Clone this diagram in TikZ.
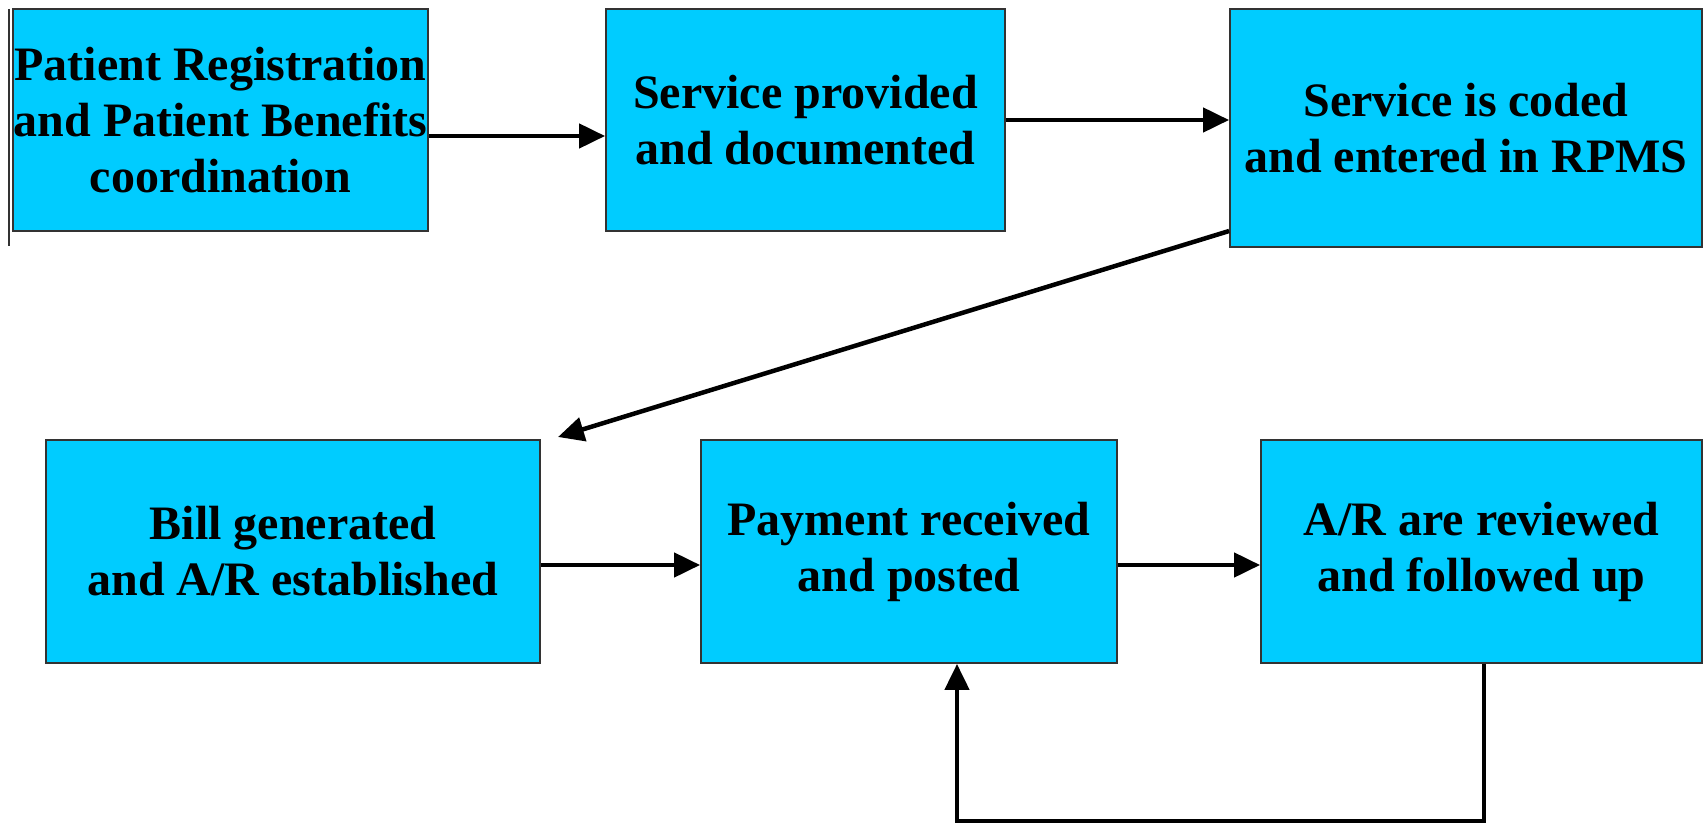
\documentclass[tikz,border=0pt]{standalone}
\usepackage{fontspec}
\setmainfont{Liberation Serif}
\usetikzlibrary{arrows.meta}
\definecolor{boxfill}{HTML}{00CCFF}
\definecolor{boxline}{HTML}{333333}
\begin{document}
\begin{tikzpicture}[x=1pt,y=-1pt,
  box/.style={draw=boxline,line width=1.8pt,fill=boxfill,inner sep=0pt,align=center,
    font=\fontsize{48}{56}\selectfont\bfseries},
  arr/.style={draw=black,line width=4.5pt,-{Triangle[length=26pt,width=24pt]}}]
\useasboundingbox (0,0) rectangle (1705,824);
\node[box,minimum width=415pt,minimum height=222pt] (b1) at (220.5,120) {Patient Registration\\and Patient Benefits\\coordination};
\node[box,minimum width=399pt,minimum height=222pt] (b2) at (805.5,120) {Service provided\\and documented};
\node[box,minimum width=472pt,minimum height=238pt] (b3) at (1466,128) {Service is coded\\and entered in RPMS};
\node[box,minimum width=494pt,minimum height=223pt] (b4) at (293,551.5) {Bill generated\\and A/R established};
\node[box,minimum width=416pt,minimum height=223pt] (b5) at (909,551.5) {Payment received\\and posted};
\node[box,minimum width=441pt,minimum height=223pt] (b6) at (1481.5,551.5) {A/R are reviewed\\and followed up};
\coordinate (y1) at (0,136);
\coordinate (y2) at (0,120);
\coordinate (y3) at (0,231);
\coordinate (a3e) at (558,437);
\coordinate (y4) at (0,565);
\coordinate (r) at (1484,821);
\coordinate (l) at (957,821);
\draw[boxline,line width=2pt] (9,9) -- (9,246);
\draw[arr] (b1.east |- y1) -- (b2.west |- y1);
\draw[arr] (b2.east |- y2) -- (b3.west |- y2);
\draw[arr] (b3.west |- y3) -- (a3e);
\draw[arr] (b4.east |- y4) -- (b5.west |- y4);
\draw[arr] (b5.east |- y4) -- (b6.west |- y4);
\draw[arr] (b6.south -| r) -- (r) -- (l) -- (b5.south -| l);
\end{tikzpicture}
\end{document}
